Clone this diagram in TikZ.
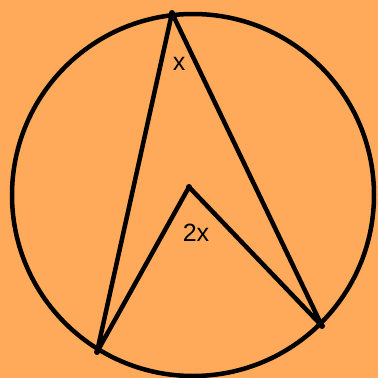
\documentclass[tikz,border=0pt]{standalone}
\usepackage{fontspec}
\setmainfont{Liberation Sans}
\definecolor{bg}{RGB}{255,170,90}
\begin{document}
\begin{tikzpicture}[x=1pt,y=-1pt,
  edge/.style={line width=4.5pt,line join=round},
  dot/.style={circle,fill=black,inner sep=0pt,minimum size=6pt},
  lbl/.style={font=\fontsize{25}{25}\selectfont}]
\fill[bg] (0,0) rectangle (378,378);
\useasboundingbox (0,0) rectangle (378,378);
\draw[edge] (193,195) circle (181);
\coordinate (A) at (172,13);
\coordinate (B) at (97,352);
\coordinate (C) at (322,326);
\coordinate (O) at (189,187);
\draw[edge] (B) -- (A) -- (C) -- (O) -- cycle;
\foreach \p in {A,B,C,O} \node[dot] at (\p) {};
\node[lbl] (lx) at (179,64) {x};
\node[lbl] (l2x) at (196,233) {2x};
\end{tikzpicture}
\end{document}
